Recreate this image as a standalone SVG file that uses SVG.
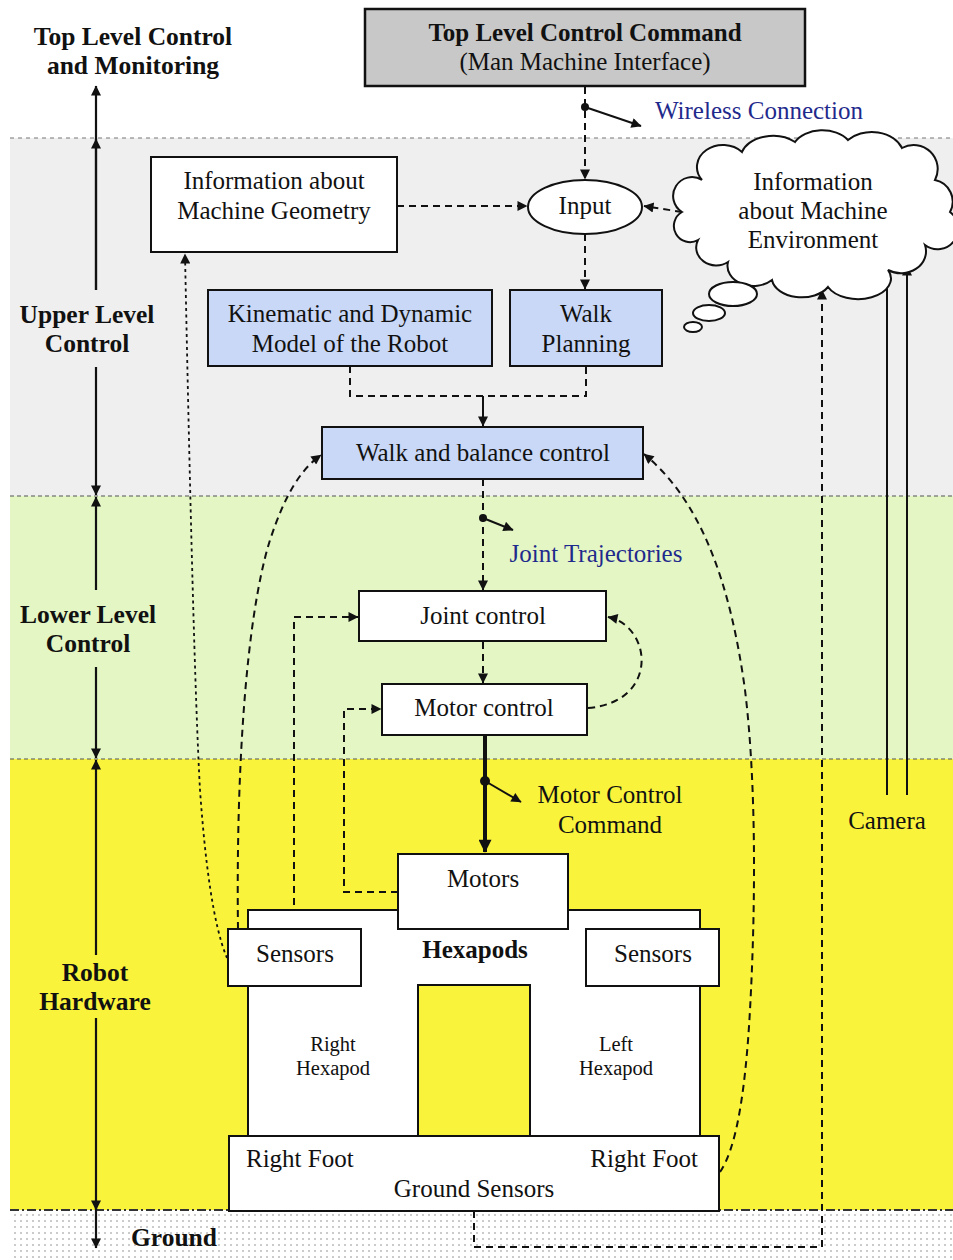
<svg xmlns="http://www.w3.org/2000/svg" width="953" height="1260" viewBox="0 0 953 1260">
<style>
.t{font-family:"Liberation Serif","Times New Roman",serif;font-size:25px;fill:#111;text-anchor:middle}
.b{font-weight:bold}
.lab{font-weight:bold;font-size:25.5px}
.s{font-size:20.5px}
.blue{fill:#1f2a8c}
.box{fill:#fff;stroke:#111;stroke-width:2}
.bb{fill:#c9d8f6;stroke:#111;stroke-width:2}
.d{fill:none;stroke:#111;stroke-width:2;stroke-dasharray:7,5}
.dot{fill:none;stroke:#111;stroke-width:1.8;stroke-dasharray:3,3.5}
.sl{fill:none;stroke:#111;stroke-width:2}
.ax{fill:none;stroke:#111;stroke-width:2.2}
</style>
<defs>
<marker id="ah" viewBox="0 0 10 10" refX="9.5" refY="5" markerWidth="13" markerHeight="10" markerUnits="userSpaceOnUse" orient="auto"><path d="M0,0 L10,5 L0,10 z" fill="#111"/></marker>
<marker id="ahb" viewBox="0 0 10 10" refX="9.5" refY="5" markerWidth="16" markerHeight="13" markerUnits="userSpaceOnUse" orient="auto"><path d="M0,0 L10,5 L0,10 z" fill="#111"/></marker>
<pattern id="dots" width="6" height="6" patternUnits="userSpaceOnUse"><rect width="6" height="6" fill="#fff"/><circle cx="3" cy="3" r="0.8" fill="#8a8a8a"/></pattern>
</defs>

<!-- background bands -->
<g id="bands">
<rect x="0" y="0" width="953" height="1260" fill="#fff"/>
<rect x="10" y="138" width="943" height="358" fill="#efefef"/>
<rect x="10" y="496" width="943" height="263" fill="#e3f6c4"/>
<rect x="10" y="759" width="943" height="451" fill="#f9f33c"/>
<rect x="10" y="1210" width="943" height="50" fill="url(#dots)"/>
<line x1="10" y1="138" x2="953" y2="138" stroke="#777" stroke-width="1.2" stroke-dasharray="4,4"/>
<line x1="10" y1="496" x2="953" y2="496" stroke="#555" stroke-width="1.2" stroke-dasharray="4,3"/>
<line x1="10" y1="759" x2="953" y2="759" stroke="#555" stroke-width="1.2" stroke-dasharray="4,3"/>
<line x1="10" y1="1210" x2="953" y2="1210" stroke="#333" stroke-width="2" stroke-dasharray="9,3,2,3"/>
</g>

<!-- left axis -->
<g id="axis">
<line class="ax" x1="96" y1="290" x2="96" y2="86" marker-end="url(#ah)"/>
<line class="ax" x1="96" y1="290" x2="96" y2="139" marker-end="url(#ah)"/>
<line class="ax" x1="96" y1="367" x2="96" y2="495" marker-end="url(#ah)"/>
<line class="ax" x1="96" y1="590" x2="96" y2="497" marker-end="url(#ah)"/>
<line class="ax" x1="96" y1="667" x2="96" y2="758" marker-end="url(#ah)"/>
<line class="ax" x1="96" y1="955" x2="96" y2="760" marker-end="url(#ah)"/>
<line class="ax" x1="96" y1="1018" x2="96" y2="1210" marker-end="url(#ah)"/>
<line class="ax" x1="96" y1="1205" x2="96" y2="1248" marker-end="url(#ah)"/>
<text class="t lab" x="133" y="45">Top Level Control</text>
<text class="t lab" x="133" y="74">and Monitoring</text>
<text class="t lab" x="87" y="323">Upper Level</text>
<text class="t lab" x="87" y="352">Control</text>
<text class="t lab" x="88" y="623">Lower Level</text>
<text class="t lab" x="88" y="652">Control</text>
<text class="t lab" x="95" y="981">Robot</text>
<text class="t lab" x="95" y="1010">Hardware</text>
<text class="t lab" x="174" y="1246">Ground</text>
</g>

<!-- connectors -->
<g id="connectors">
<path class="d" d="M585,87 V179" marker-end="url(#ah)"/>
<circle cx="585" cy="107" r="4" fill="#111"/>
<line class="sl" x1="585" y1="107" x2="641" y2="126" marker-end="url(#ah)"/>
<path class="d" d="M397,206 H527" marker-end="url(#ah)"/>
<path class="d" d="M682,212 L644,206" marker-end="url(#ah)"/>
<path class="d" d="M585,234 V289" marker-end="url(#ah)"/>
<path class="d" d="M350,366 V396 H586 V366"/>
<path class="sl" d="M483,396 V426" marker-end="url(#ah)"/>
<path class="d" d="M483,479 V590" marker-end="url(#ah)"/>
<circle cx="483" cy="518" r="4" fill="#111"/>
<line class="sl" x1="483" y1="518" x2="513" y2="530" marker-end="url(#ah)"/>
<path class="d" d="M483,642 V683" marker-end="url(#ah)"/>
<path class="d" d="M588,708 C660,702 652,626 608,617" marker-end="url(#ah)"/>
<path class="d" d="M294,929 V617 H358" marker-end="url(#ah)"/>
<path class="d" d="M398,892 H344 V709 H381" marker-end="url(#ah)"/>
<path fill="none" stroke="#111" stroke-width="4" d="M485,736 V852" marker-end="url(#ahb)"/>
<circle cx="485" cy="781" r="5" fill="#111"/>
<line class="sl" x1="485" y1="781" x2="521" y2="802" marker-end="url(#ah)"/>
<path class="d" d="M238,929 C236,780 245,620 270,540 C285,495 300,470 321,455" marker-end="url(#ah)"/>
<path class="dot" d="M227,958 C213,925 205,860 200,790 C195,700 190,500 185,254" marker-end="url(#ah)"/>
<path class="d" d="M720,1172 C735,1150 745,1100 750,1010 C756,900 756,780 745,690 C730,580 700,500 644,454" marker-end="url(#ah)"/>
<path class="d" d="M474,1211 V1247 H822 V290" marker-end="url(#ah)"/>
<path class="sl" d="M887,795 V271" marker-end="url(#ah)"/>
<path class="sl" d="M907,795 V266" marker-end="url(#ah)"/>
</g>

<!-- nodes -->
<g id="top-command">
<rect x="365" y="9" width="440" height="77" fill="#c8c8c8" stroke="#111" stroke-width="2.5"/>
<text class="t b" x="585" y="41">Top Level Control Command</text>
<text class="t" x="585" y="70">(Man Machine Interface)</text>
</g>
<text class="t blue" x="759" y="119">Wireless Connection</text>

<g id="geometry">
<rect class="box" x="151" y="157" width="246" height="95"/>
<text class="t" x="274" y="189">Information about</text>
<text class="t" x="274" y="219">Machine Geometry</text>
</g>

<g id="input">
<ellipse cx="585" cy="207" rx="57" ry="27" fill="#fff" stroke="#111" stroke-width="2"/>
<text class="t" x="585" y="214">Input</text>
</g>

<g id="environment">
<path fill="#fff" stroke="#111" stroke-width="2" d="M682,212 A18,18 0 0 1 702,180 A26,22 0 0 1 742,152 A32,22 0 0 1 795,142 A30,20 0 0 1 848,140 A32,24 0 0 1 902,148 A24,24 0 0 1 935,180 A22,22 0 0 1 950,212 A20,20 0 0 1 925,245 A25,22 0 0 1 888,270 A32,20 0 0 1 828,287 A30,20 0 0 1 772,280 A26,20 0 0 1 728,262 A20,18 0 0 1 698,240 A16,16 0 0 1 682,212 Z"/>
<ellipse cx="733" cy="294" rx="24" ry="12" fill="#fff" stroke="#111" stroke-width="2"/>
<ellipse cx="709" cy="313" rx="16" ry="8" fill="#fff" stroke="#111" stroke-width="2"/>
<ellipse cx="693" cy="327" rx="9" ry="5" fill="#fff" stroke="#111" stroke-width="2"/>
<text class="t" x="813" y="190">Information</text>
<text class="t" x="813" y="219">about Machine</text>
<text class="t" x="813" y="248">Environment</text>
</g>

<g id="kinematic">
<rect class="bb" x="208" y="290" width="284" height="76"/>
<text class="t" x="350" y="322">Kinematic and Dynamic</text>
<text class="t" x="350" y="352">Model of the Robot</text>
</g>

<g id="walk-planning">
<rect class="bb" x="510" y="290" width="152" height="76"/>
<text class="t" x="586" y="322">Walk</text>
<text class="t" x="586" y="352">Planning</text>
</g>

<g id="walk-balance">
<rect class="bb" x="322" y="427" width="321" height="52"/>
<text class="t" x="483" y="461">Walk and balance control</text>
</g>

<text class="t blue" x="596" y="562">Joint Trajectories</text>

<g id="joint-control">
<rect class="box" x="359" y="591" width="247" height="50"/>
<text class="t" x="483" y="624">Joint control</text>
</g>

<g id="motor-control">
<rect class="box" x="382" y="684" width="205" height="51"/>
<text class="t" x="484" y="716">Motor control</text>
</g>

<text class="t" x="610" y="803">Motor Control</text>
<text class="t" x="610" y="833">Command</text>

<g id="hexapods">
<path class="box" d="M248,910 H700 V1136 H530 V985 H418 V1136 H248 Z"/>
<text class="t b" x="475" y="958">Hexapods</text>
<text class="t s" x="333" y="1051">Right</text>
<text class="t s" x="333" y="1075">Hexapod</text>
<text class="t s" x="616" y="1051">Left</text>
<text class="t s" x="616" y="1075">Hexapod</text>
</g>

<g id="motors">
<rect class="box" x="398" y="854" width="170" height="75"/>
<text class="t" x="483" y="887">Motors</text>
</g>

<g id="sensors-left">
<rect class="box" x="228" y="929" width="133" height="57"/>
<text class="t" x="295" y="962">Sensors</text>
</g>

<g id="sensors-right">
<rect class="box" x="586" y="929" width="133" height="57"/>
<text class="t" x="653" y="962">Sensors</text>
</g>

<g id="ground-sensors">
<rect class="box" x="229" y="1136" width="490" height="75"/>
<text class="t" x="246" y="1167" style="text-anchor:start">Right Foot</text>
<text class="t" x="698" y="1167" style="text-anchor:end">Right Foot</text>
<text class="t" x="474" y="1197">Ground Sensors</text>
</g>

<text class="t" x="887" y="829">Camera</text>
</svg>
